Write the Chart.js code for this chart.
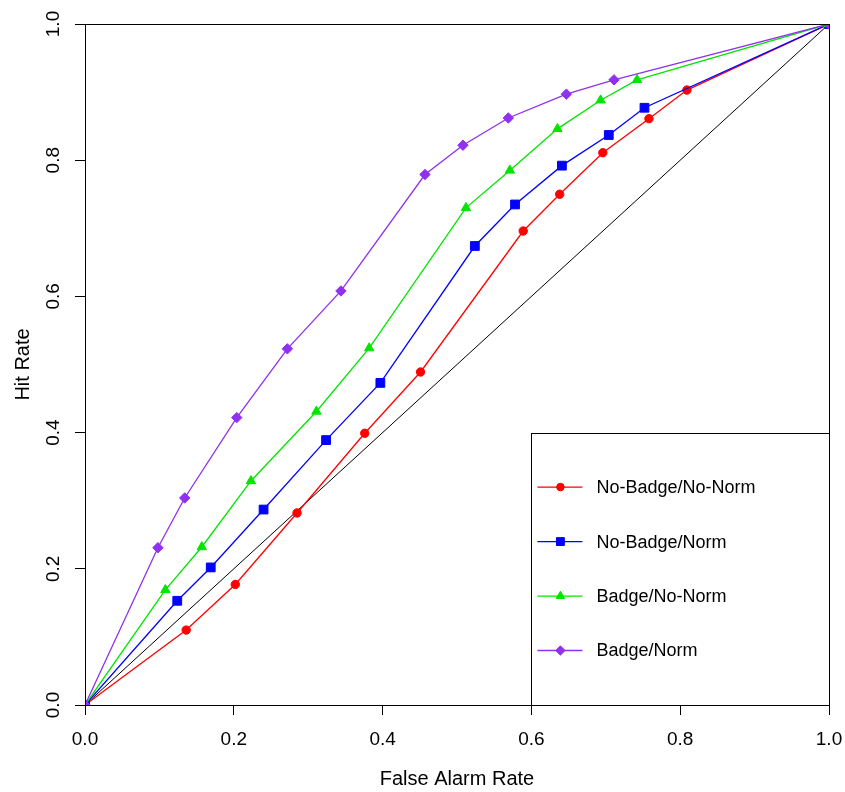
<!DOCTYPE html>
<html>
<head>
<meta charset="utf-8">
<script src="https://cdn.jsdelivr.net/npm/chart.js@4/dist/chart.umd.min.js"></script>
<style>
  html, body { margin: 0; padding: 0; background: #fff; }
  #wrap { width: 845px; height: 792px; }
</style>
</head>
<body>
<div id="wrap"><canvas id="roc"></canvas></div>
<script>
// false alarm rate (x) and hit rate (y) per condition
const noBadgeNoNormFA  = [0, 0.136, 0.202, 0.285, 0.376, 0.451, 0.589, 0.638, 0.696, 0.758, 0.809, 1];
const noBadgeNoNormHit = [0, 0.110, 0.177, 0.282, 0.399, 0.489, 0.696, 0.750, 0.811, 0.861, 0.903, 1];

const noBadgeNormFA  = [0, 0.124, 0.169, 0.240, 0.324, 0.397, 0.524, 0.578, 0.641, 0.704, 0.752, 1];
const noBadgeNormHit = [0, 0.153, 0.202, 0.287, 0.389, 0.473, 0.674, 0.735, 0.792, 0.837, 0.877, 1];

const badgeNoNormFA  = [0, 0.108, 0.157, 0.223, 0.311, 0.382, 0.512, 0.571, 0.635, 0.693, 0.742, 1];
const badgeNoNormHit = [0, 0.169, 0.232, 0.329, 0.431, 0.524, 0.730, 0.785, 0.846, 0.888, 0.918, 1];

const badgeNormFA  = [0, 0.098, 0.134, 0.204, 0.272, 0.344, 0.457, 0.508, 0.569, 0.647, 0.711, 1];
const badgeNormHit = [0, 0.231, 0.304, 0.422, 0.523, 0.608, 0.779, 0.822, 0.862, 0.897, 0.918, 1];

const chanceLine = [0, 1];

const seriesLabels = ["No-Badge/No-Norm", "No-Badge/Norm", "Badge/No-Norm", "Badge/Norm"];
const axisTicks = [0, 0.2, 0.4, 0.6, 0.8, 1.0];

const FONT = "'Liberation Sans', Arial, sans-serif";

function pairs(xs, ys) {
  return xs.map((x, i) => ({ x: x, y: ys[i] }));
}

function series(label, xs, ys, color, style, radius, order) {
  return {
    label: label,
    data: pairs(xs, ys),
    showLine: true,
    borderColor: color,
    backgroundColor: color,
    borderWidth: 1.3,
    pointStyle: style,
    pointRadius: radius,
    pointHoverRadius: radius,
    pointBorderWidth: 1,
    pointBorderColor: color,
    pointBackgroundColor: color,
    clip: 0,
    order: order,
    inLegend: true
  };
}

// plot frame, like R's box()
const boxPlugin = {
  id: "box",
  afterDraw(chart) {
    const a = chart.chartArea, ctx = chart.ctx;
    ctx.save();
    ctx.strokeStyle = "#000";
    ctx.lineWidth = 1;
    ctx.strokeRect(Math.round(a.left) + 0.5, Math.round(a.top) + 0.5,
                   Math.round(a.right - a.left), Math.round(a.bottom - a.top));
    ctx.restore();
  }
};

// legend box anchored at (0.6, 0.4) in data space, running to the bottom right corner
const insetLegend = {
  id: "insetLegend",
  afterDatasetsDraw(chart) {
    const ctx = chart.ctx, a = chart.chartArea;
    const x0 = chart.scales.x.getPixelForValue(0.6);
    const y0 = chart.scales.y.getPixelForValue(0.4);
    const items = chart.data.datasets.filter(d => d.inLegend);
    const step = (a.bottom - y0) / (items.length + 1);
    ctx.save();
    ctx.fillStyle = "#fff";
    ctx.fillRect(x0, y0, a.right - x0, a.bottom - y0);
    ctx.strokeStyle = "#000";
    ctx.lineWidth = 1;
    ctx.strokeRect(Math.round(x0) + 0.5, Math.round(y0) + 0.5,
                   Math.round(a.right - x0), Math.round(a.bottom - y0));
    ctx.font = "18px " + FONT;
    ctx.textBaseline = "middle";
    ctx.textAlign = "left";
    items.forEach((d, i) => {
      const y = y0 + step * (i + 1);
      ctx.strokeStyle = d.borderColor;
      ctx.lineWidth = 1.3;
      ctx.beginPath();
      ctx.moveTo(x0 + 6, y);
      ctx.lineTo(x0 + 51, y);
      ctx.stroke();
      ctx.fillStyle = d.pointBackgroundColor;
      ctx.strokeStyle = d.pointBorderColor;
      ctx.lineWidth = 1;
      Chart.helpers.drawPoint(ctx, { pointStyle: d.pointStyle, radius: d.pointRadius * 0.9, rotation: 0, borderWidth: 1 }, x0 + 29, y);
      ctx.fillStyle = "#000";
      ctx.fillText(d.label, x0 + 65, y + 1);
    });
    ctx.restore();
  }
};

function axis(titleText, isY) {
  return {
    type: "linear",
    min: 0,
    max: 1,
    afterBuildTicks: s => { s.ticks = axisTicks.map(v => ({ value: v })); },
    afterFit: s => {
      if (isY) {
        s.width = 85;
      } else {
        s.height = 87;
        s.paddingLeft = 0;
        s.paddingRight = 0;
      }
    },
    ticks: {
      color: "#000",
      font: { family: FONT, size: 19, lineHeight: 1.2 },
      padding: isY ? 8 : 13,
      minRotation: isY ? 90 : 0,
      maxRotation: isY ? 90 : 0,
      crossAlign: isY ? "center" : "near",
      callback: v => v.toFixed(1)
    },
    grid: { drawOnChartArea: false, drawTicks: true, tickLength: 10, color: "#000", lineWidth: 1 },
    border: { display: true, color: "#000", width: 1 },
    title: {
      display: true,
      text: titleText,
      color: "#000",
      font: { family: FONT, size: 20, lineHeight: 1 },
      padding: isY ? { top: 13, bottom: 0 } : { top: 0, bottom: 3 }
    }
  };
}

new Chart(document.getElementById("roc"), {
  type: "scatter",
  data: {
    datasets: [
      {
        label: "chance",
        data: pairs(chanceLine, chanceLine),
        showLine: true,
        borderColor: "#000",
        borderWidth: 1,
        pointRadius: 0,
        clip: 0,
        order: 5
      },
      series(seriesLabels[0], noBadgeNoNormFA, noBadgeNoNormHit, "#FF0000", "circle", 4.2, 4),
      series(seriesLabels[1], noBadgeNormFA, noBadgeNormHit, "#0000FF", "rect", 6.2, 3),
      series(seriesLabels[2], badgeNoNormFA, badgeNoNormHit, "#00E600", "triangle", 5.4, 2),
      series(seriesLabels[3], badgeNormFA, badgeNormHit, "#9030F0", "rectRot", 5.2, 1)
    ]
  },
  options: {
    responsive: true,
    maintainAspectRatio: false,
    animation: false,
    layout: { padding: { top: 24, right: 16, left: 0, bottom: 0 } },
    scales: {
      x: axis("False Alarm Rate", false),
      y: axis("Hit Rate", true)
    },
    plugins: {
      legend: { display: false },
      tooltip: { enabled: false }
    }
  },
  plugins: [boxPlugin, insetLegend]
});
</script>
</body>
</html>
